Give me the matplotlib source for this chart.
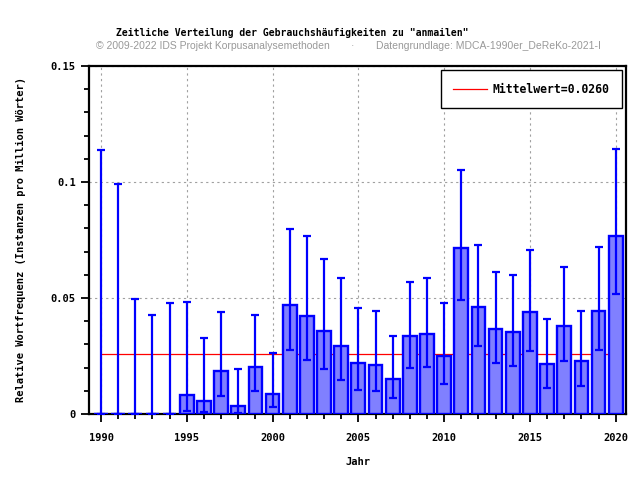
import matplotlib
matplotlib.use('Agg')
import matplotlib.pyplot as plt
from matplotlib.ticker import MultipleLocator

# --- DATEN ---
jahre = list(range(1990, 2021))
werte = [0, 0, 0, 0, 0, 0.0083, 0.0057, 0.0187, 0.0036, 0.0204,
         0.0088, 0.0471, 0.0424, 0.0359, 0.0294, 0.0221, 0.0213, 0.0152, 0.0338, 0.0346,
         0.0251, 0.0717, 0.0463, 0.0368, 0.0355, 0.0441, 0.0217, 0.0380, 0.0230, 0.0445,
         0.0769]
obere = [0.1138, 0.0991, 0.0497, 0.0427, 0.0480, 0.0484, 0.0329, 0.0441, 0.0194, 0.0427,
         0.0264, 0.0797, 0.0769, 0.0670, 0.0588, 0.0458, 0.0445, 0.0338, 0.0570, 0.0588,
         0.0480, 0.1053, 0.0730, 0.0613, 0.0600, 0.0708, 0.0411, 0.0635, 0.0445, 0.0721,
         0.1144]
untere = [0, 0, 0, 0, 0, 0.0014, 0.0010, 0.0079, 0.0005, 0.0100,
          0.0032, 0.0277, 0.0233, 0.0195, 0.0147, 0.0103, 0.0099, 0.0069, 0.0200, 0.0204,
          0.0131, 0.0493, 0.0294, 0.0221, 0.0208, 0.0273, 0.0113, 0.0230, 0.0122, 0.0277,
          0.0519]
mittelwert = 0.0260

titel = 'Zeitliche Verteilung der Gebrauchshäufigkeiten zu "anmailen"'
quelle_links = '© 2009-2022 IDS Projekt Korpusanalysemethoden'
quelle_rechts = 'Datengrundlage: MDCA-1990er_DeReKo-2021-I'

mono = 'DejaVu Sans Mono'
schmal = ['Liberation Sans Narrow', 'Liberation Sans', 'DejaVu Sans']

fig = plt.figure(figsize=(6.4, 4.8), dpi=100)
ax = fig.add_axes([89 / 640, 66 / 480, 537 / 640, 348 / 480])

fehler = [[w - u for w, u in zip(werte, untere)],
          [o - w for w, o in zip(werte, obere)]]

# Mittelwert-Linie hinter den Balken
ax.plot([jahre[0], jahre[-1]], [mittelwert, mittelwert], color='red', lw=0.9,
        zorder=2, label=f'Mittelwert={mittelwert:.4f}')

ax.bar(jahre, werte, width=0.8, color='#8080ff', edgecolor='#0000ff', linewidth=1.7, zorder=3)
ax.errorbar(jahre, werte, yerr=fehler, fmt='none', ecolor='#0000ff', elinewidth=1.6,
            capsize=2.6, capthick=1.6, zorder=4)

ax.set_xlim(1989.3, 2020.6)
ax.set_ylim(0, 0.15)
ax.set_yticks([0, 0.05, 0.1, 0.15])
ax.set_yticklabels(['0', '0.05', '0.1', '0.15'])
ax.set_xticks(range(1990, 2021, 5))
ax.xaxis.set_minor_locator(MultipleLocator(1))
ax.yaxis.set_minor_locator(MultipleLocator(0.01))

ax.grid(True, which='major', color='#a0a0a0', linestyle=(0, (2, 3)), lw=0.8, zorder=0)
ax.set_axisbelow(True)

for s in ax.spines.values():
    s.set_linewidth(1.6)
ax.tick_params(which='major', length=6, width=1.3, direction='out')
ax.tick_params(which='minor', length=3.5, width=1.3, direction='out')
ax.tick_params(axis='x', which='major', pad=8)
for lab in ax.get_xticklabels() + ax.get_yticklabels():
    lab.set_fontfamily(mono)
    lab.set_fontweight('bold')
    lab.set_fontsize(7.5)

ax.set_xlabel('Jahr', fontfamily=mono, fontweight='bold', fontsize=7.5, labelpad=10)
ax.set_ylabel('Relative Wortfrequenz (Instanzen pro Million Wörter)', fontfamily=mono,
              fontweight='bold', fontsize=7.5, labelpad=18)

leg = ax.legend(loc='upper right', prop={'family': mono, 'weight': 'bold', 'size': 8.3},
                fancybox=False, edgecolor='black', framealpha=1, handlelength=2.9,
                handletextpad=0.5, borderaxespad=0.35, borderpad=1.1)
leg.get_frame().set_linewidth(1.0)

fig.text(292 / 640, 1 - 33 / 480, titel, ha='center', va='center', fontfamily=mono,
         fontweight='bold', fontsize=7)
fig.text(96 / 640, 1 - 46 / 480, quelle_links, ha='left', va='center', family=schmal,
         color='#999999', fontsize=7.5)
fig.text(352 / 640, 1 - 46 / 480, '·', ha='center', va='center', family=schmal,
         color='#999999', fontsize=7.5)
fig.text(376 / 640, 1 - 46 / 480, quelle_rechts, ha='left', va='center', family=schmal,
         color='#999999', fontsize=7.5)

fig.savefig('out.png', dpi=100)
